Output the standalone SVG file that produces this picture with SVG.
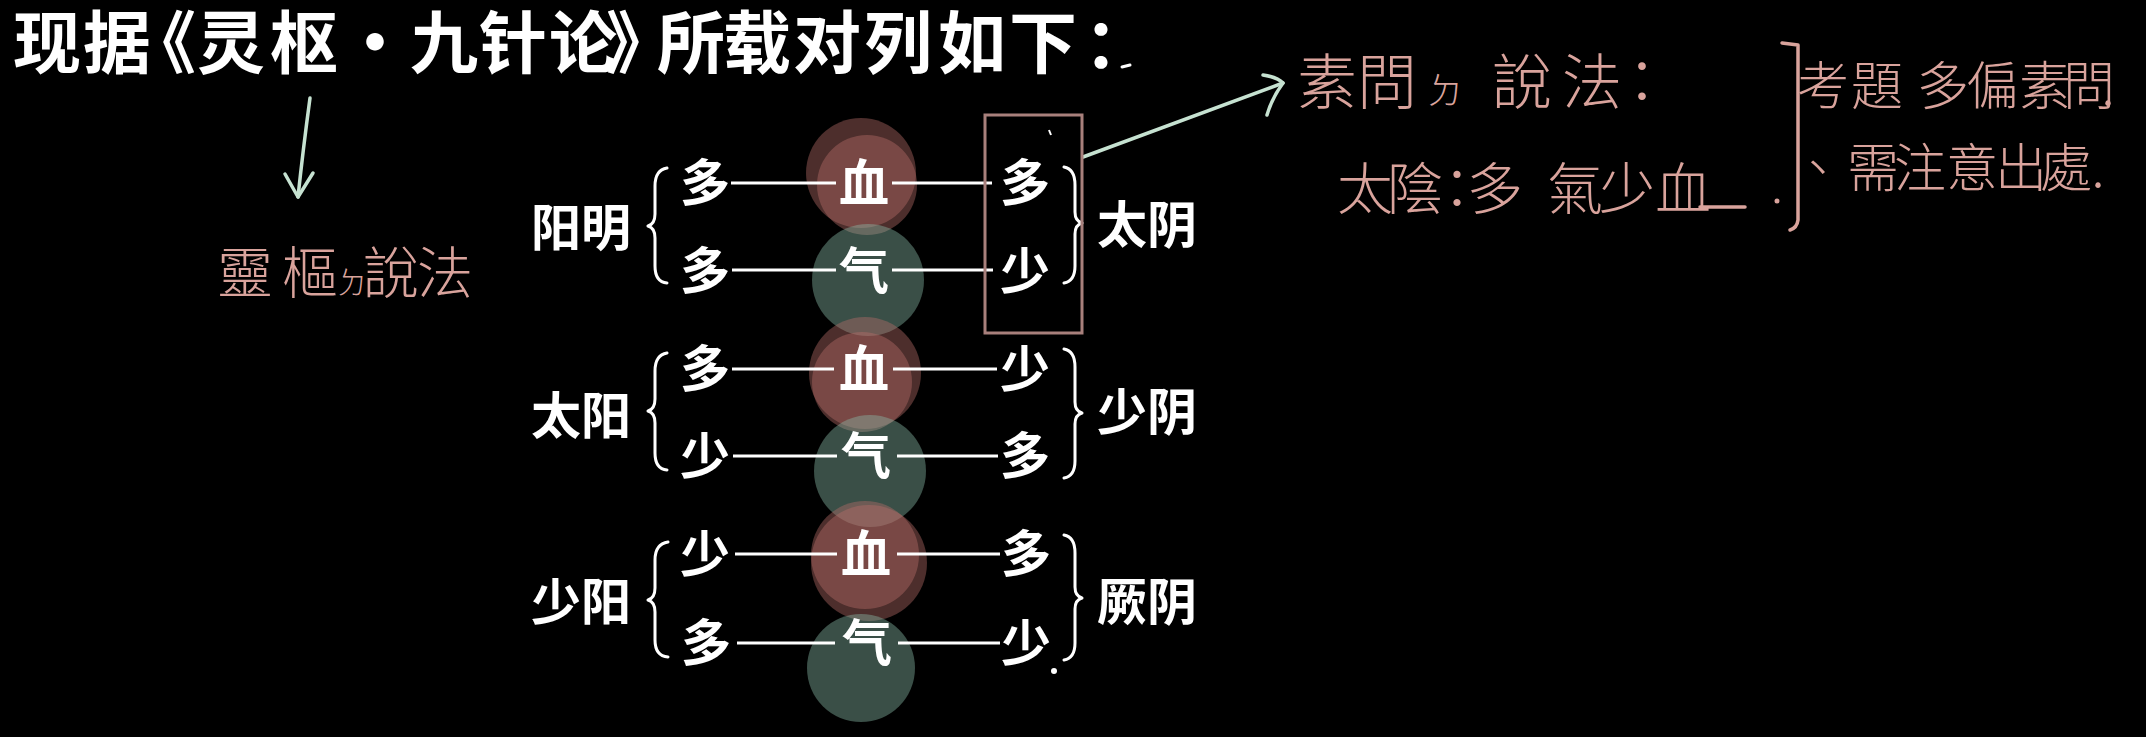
<svg xmlns="http://www.w3.org/2000/svg" width="2146" height="737" viewBox="0 0 2146 737">
<style>
.title{font-family:"Noto Sans CJK SC","Noto Sans CJK TC",sans-serif;font-weight:700;font-size:68px;fill:#ffffff;text-anchor:middle}
.cn{font-family:"Noto Sans CJK SC",sans-serif;font-weight:700;font-size:50px;fill:#ffffff;text-anchor:middle}
.lbl{font-family:"Noto Sans CJK SC",sans-serif;font-weight:700;font-size:50px;fill:#ffffff}
.hw{font-family:"Noto Sans CJK TC","Noto Sans CJK SC",sans-serif;font-weight:300;fill:#d9a39c;text-anchor:middle}
.wl{stroke:#ffffff;stroke-width:3;fill:none}
.br{stroke:#ffffff;stroke-width:3;fill:none;stroke-linecap:round;stroke-linejoin:round}
.pk{stroke:#d9a39c;stroke-width:3.5;fill:none;stroke-linecap:round;stroke-linejoin:round}
.mint{stroke:#c6e2d1;stroke-width:3.5;fill:none;stroke-linecap:round;stroke-linejoin:round}
.blood{fill:#b86e68;fill-opacity:0.42}
.qi{fill:#8abcaa;fill-opacity:0.42}
</style>
<rect x="0" y="0" width="2146" height="737" fill="#000000"/>

<g id="title">
<text class="title" y="68" x="47 117 162 231 304 375 444 513 583 640 691 757 827 898 972 1043 1118">现据《灵枢·九针论》所载对列如下：</text>
<path class="br" d="M1122,67 L1130,65"/>
</g>

<g id="circles">
<circle class="blood" cx="861" cy="173" r="55"/>
<circle class="blood" cx="867" cy="185" r="50"/>
<circle class="qi" cx="868" cy="280" r="56"/>
<circle class="blood" cx="865" cy="373" r="56"/>
<circle class="blood" cx="862" cy="382" r="50"/>
<circle class="qi" cx="870" cy="471" r="56"/>
<circle class="blood" cx="869" cy="563" r="58"/>
<circle class="blood" cx="865" cy="555" r="54"/>
<circle class="qi" cx="861" cy="668" r="54"/>
</g>

<g id="connectors">
<line class="wl" x1="731" y1="183" x2="836" y2="183"/>
<line class="wl" x1="892" y1="183" x2="992" y2="183"/>
<line class="wl" x1="732" y1="270" x2="836" y2="270"/>
<line class="wl" x1="892" y1="270" x2="993" y2="270"/>
<line class="wl" x1="732" y1="369" x2="834" y2="369"/>
<line class="wl" x1="893" y1="369" x2="997" y2="369"/>
<line class="wl" x1="733" y1="456" x2="837" y2="456"/>
<line class="wl" x1="897" y1="456" x2="998" y2="456"/>
<line class="wl" x1="735" y1="554" x2="837" y2="554"/>
<line class="wl" x1="897" y1="554" x2="1000" y2="554"/>
<line class="wl" x1="737" y1="643" x2="835" y2="643"/>
<line class="wl" x1="898" y1="643" x2="1000" y2="643"/>
<path class="mint" d="M310,98 Q303,150 298,197"/>
<path class="mint" d="M285,174 L298,197 L313,173"/>
<path class="mint" d="M1083,157 L1283,83"/>
<path class="mint" d="M1263,75 Q1277,77 1283,83 Q1272,98 1267,115"/>
</g>

<g id="row-yangming">
<text class="lbl" x="531" y="246">阳明</text>
<path class="br" d="M667,168 Q655,170 655,186 L655,214 Q655,224 648,226 Q655,228 655,238 L655,266 Q655,282 667,283"/>
<text class="cn" x="705" y="201">多</text>
<text class="cn" x="864" y="201">血</text>
<text class="cn" x="1025" y="201">多</text>
<text class="cn" x="705" y="289">多</text>
<text class="cn" x="864" y="289">气</text>
<text class="cn" x="1025" y="289">少</text>
<path class="br" d="M1064,167 Q1075,169 1075,185 L1075,212 Q1075,221 1082,223 Q1075,225 1075,234 L1075,266 Q1075,281 1064,283"/>
<text class="lbl" x="1097" y="243">太阴</text>
</g>

<g id="row-taiyang">
<text class="lbl" x="531" y="434">太阳</text>
<path class="br" d="M667,353 Q655,355 655,371 L655,399 Q655,409 648,411 Q655,413 655,423 L655,453 Q655,469 667,470"/>
<text class="cn" x="705" y="387">多</text>
<text class="cn" x="864" y="387">血</text>
<text class="cn" x="1025" y="387">少</text>
<text class="cn" x="705" y="474">少</text>
<text class="cn" x="866" y="474">气</text>
<text class="cn" x="1025" y="474">多</text>
<path class="br" d="M1064,349 Q1075,351 1075,367 L1075,402 Q1075,411 1082,413 Q1075,415 1075,424 L1075,461 Q1075,476 1064,478"/>
<text class="lbl" x="1097" y="430">少阴</text>
</g>

<g id="row-shaoyang">
<text class="lbl" x="531" y="620">少阳</text>
<path class="br" d="M668,542 Q655,544 655,560 L655,588 Q655,598 648,600 Q655,602 655,612 L655,640 Q655,656 668,657"/>
<text class="cn" x="705" y="572">少</text>
<text class="cn" x="866" y="572">血</text>
<text class="cn" x="1026" y="572">多</text>
<text class="cn" x="706" y="661">多</text>
<text class="cn" x="867" y="661">气</text>
<text class="cn" x="1026" y="661">少</text>
<circle cx="1054" cy="671" r="3" fill="#ffffff"/>
<path class="br" d="M1064,535 Q1075,537 1075,553 L1075,587 Q1075,596 1082,598 Q1075,600 1075,609 L1075,643 Q1075,658 1064,660"/>
<text class="lbl" x="1097" y="620">厥阴</text>
</g>

<g id="taiyin-box">
<rect x="985" y="115" width="97" height="218" fill="none" stroke="#a8807c" stroke-width="3"/>
<path d="M1049,130 L1051,135" stroke="#ffffff" stroke-width="2" fill="none"/>
</g>

<g id="note-lingshu">
<text class="hw" y="293" font-size="56"><tspan x="245 310">靈樞</tspan><tspan x="352" font-size="30">ㄉ</tspan><tspan x="391 445">說法</tspan></text>
</g>

<g id="note-suwen">
<text class="hw" y="104" font-size="60"><tspan x="1327 1387">素問</tspan><tspan x="1445" font-size="36">ㄉ</tspan><tspan x="1522 1592 1642">說法：</tspan></text>
<text class="hw" y="209" font-size="56" x="1365 1415 1457 1495 1575 1627 1683">太陰：多氣少血</text>
<path class="pk" d="M1700,207 L1745,207"/>
<circle cx="1777" cy="201" r="2.5" fill="#d9a39c"/>
</g>

<g id="note-exam">
<path class="pk" d="M1782,43 L1798,45 L1798,220 Q1797,228 1790,230"/>
<text class="hw" y="105" font-size="52" x="1823 1877 1943 1992 2045 2089 2108">考題多偏素問.</text>
<text class="hw" y="187" font-size="52" x="1818 1873 1920 1972 2021 2066 2098">、需注意出處.</text>
</g>
</svg>
